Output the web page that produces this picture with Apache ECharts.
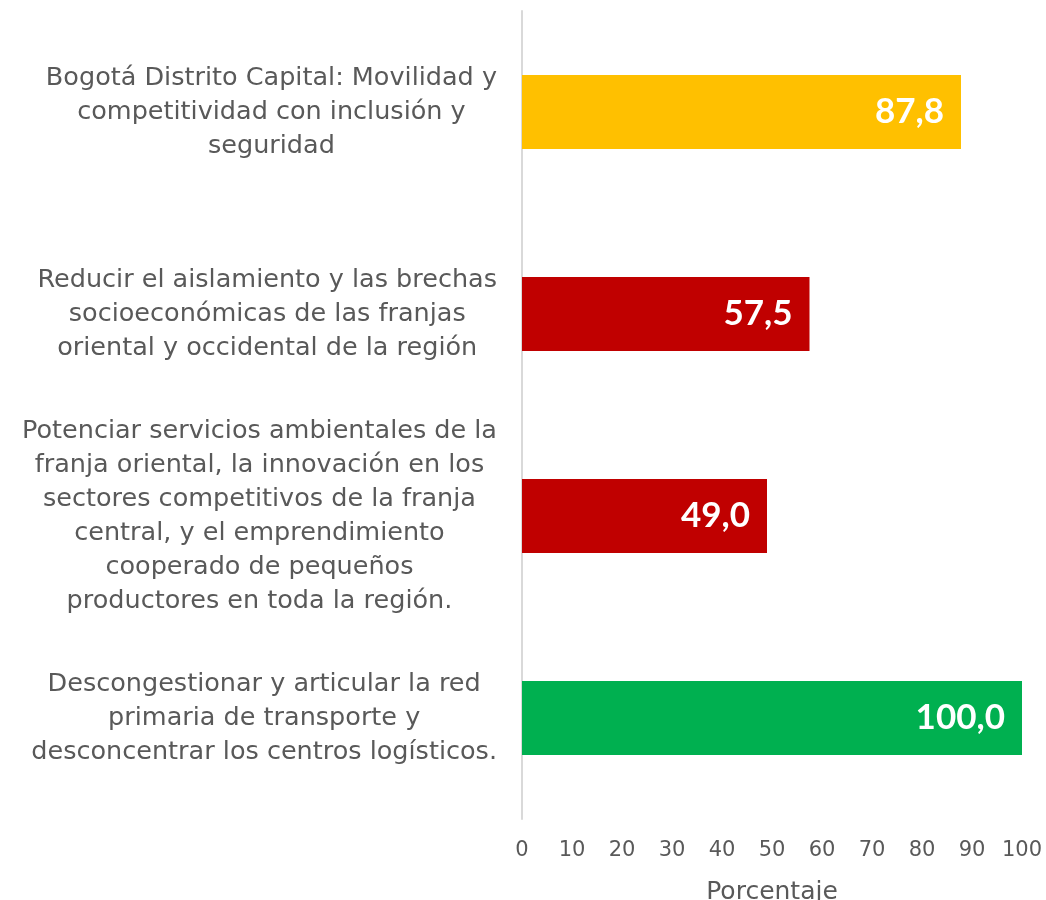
<!DOCTYPE html>
<html><head><meta charset="utf-8">
<script src="https://cdn.jsdelivr.net/npm/echarts@6/dist/echarts.min.js"></script>
<style>html,body{margin:0;padding:0;background:#fff}#c{width:1046px;height:900px}</style>
</head><body><div id="c"></div>
<script>
const categories = [
  "Bogotá Distrito Capital: Movilidad y\ncompetitividad con inclusión y\nseguridad",
  "Reducir el aislamiento y las brechas\nsocioeconómicas de las franjas\noriental y occidental de la región",
  "Potenciar servicios ambientales de la\nfranja oriental, la innovación en los\nsectores competitivos de la franja\ncentral, y el emprendimiento\ncooperado de pequeños\nproductores en toda la región.",
  "Descongestionar y articular la red\nprimaria de transporte y\ndesconcentrar los centros logísticos."
];
const values = [87.8, 57.5, 49.0, 100.0];
const barColors = ["#FFC000", "#C00000", "#C00000", "#00B050"];
const xTicks = [0, 10, 20, 30, 40, 50, 60, 70, 80, 90, 100];
const axisName = "Porcentaje";

const FONT = "DejaVu Sans";
const chart = echarts.init(document.getElementById('c'));
chart.setOption({
  animation: false,
  grid: {left: 522, right: 24, top: 11, height: 808, containLabel: false, outerBoundsMode: 'none'},
  xAxis: {
    type: 'value', min: 0, max: 100, interval: 10,
    name: axisName, nameLocation: 'middle', nameGap: 61,
    nameTextStyle: {color: '#595959', fontSize: 25, fontFamily: FONT},
    axisLine: {show: false}, axisTick: {show: false}, splitLine: {show: false},
    axisLabel: {color: '#595959', fontSize: 21, fontFamily: FONT, margin: 21,
      formatter: v => xTicks.includes(v) ? String(v) : ''}
  },
  yAxis: {
    type: 'category', data: categories, inverse: true,
    axisLine: {show: true, lineStyle: {color: '#d9d9d9', width: 2}},
    axisTick: {show: false},
    axisLabel: {
      margin: 25, color: '#595959', fontSize: 25.5, fontFamily: FONT, lineHeight: 34,
      formatter: v => v.split('\n').map(l => '{c|' + l + '}').join('\n'),
      rich: {c: {align: 'center', color: '#595959', fontSize: 25.5, fontFamily: FONT, lineHeight: 34}}
    }
  },
  series: [{
    type: 'bar', barWidth: 74,
    data: values.map((v, i) => ({value: v, itemStyle: {color: barColors[i]}})),
    label: {show: true, position: 'insideRight', distance: 17, color: '#fff',
      fontSize: 35, fontWeight: 'bold', fontFamily: 'Lato',
      formatter: p => p.value.toFixed(1).replace('.', ',')}
  }]
});
</script></body></html>
